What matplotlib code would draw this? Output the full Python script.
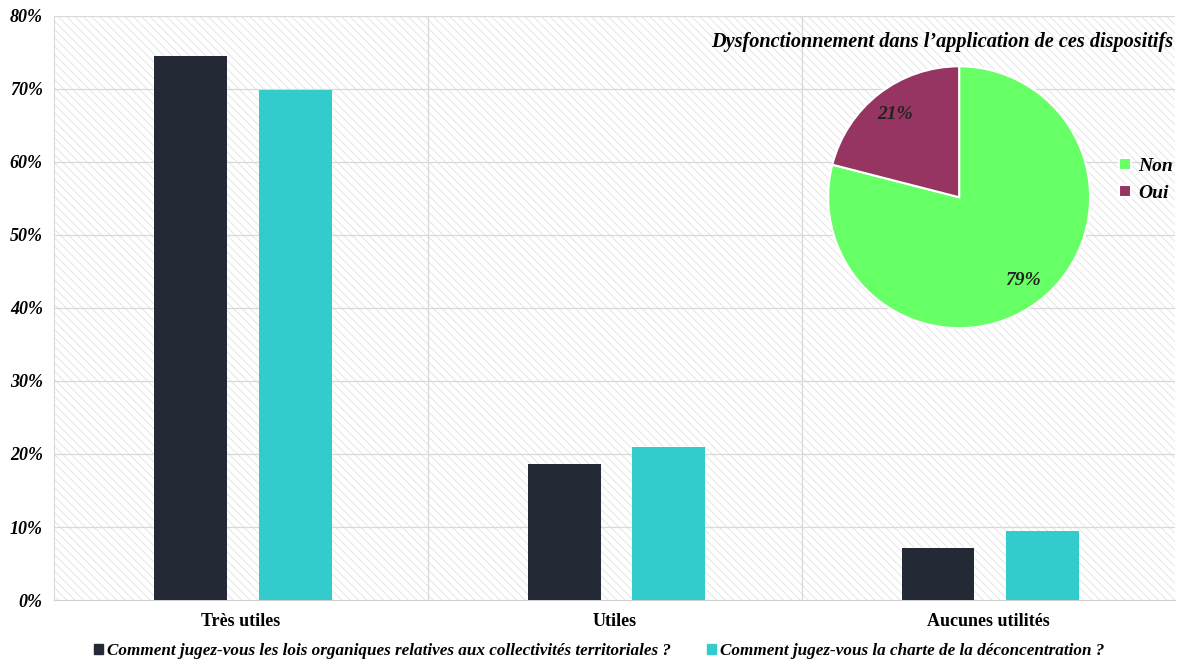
import numpy as np
import matplotlib.pyplot as plt
from matplotlib.patches import Patch, Rectangle

categories = ["Très utiles", "Utiles", "Aucunes utilités"]
lois = [74.5, 18.6, 7.1]
charte = [69.9, 21.0, 9.4]
series_names = ["Comment jugez-vous les lois organiques relatives aux collectivités territoriales ?",
                "Comment jugez-vous la charte de la déconcentration ?"]
pie_labels = ["Non", "Oui"]
pie_values = [79, 21]
pie_title = "Dysfonctionnement dans l\u2019application de ces dispositifs"

dark = "#232a35"
teal = "#33cccc"
green = "#66ff66"
plum = "#963462"

plt.rcParams['font.family'] = ['Liberation Serif', 'DejaVu Serif']
plt.rcParams['hatch.linewidth'] = 0.6

fig = plt.figure(figsize=(11.78, 6.63), dpi=100)
ax = fig.add_axes([0.0458, 0.095, 0.952, 0.881])

# hatched background
ax.add_patch(Rectangle((0, 0), 1, 1, transform=ax.transAxes, facecolor='white',
                       edgecolor='#e2e2e2', hatch='\\\\\\\\', linewidth=0, zorder=0))

x = np.arange(len(categories))
w = 0.195
ax.bar(x - 0.135, lois, w, color=dark, zorder=3)
ax.bar(x + 0.145, charte, w, color=teal, zorder=3)

ax.set_xlim(-0.5, 2.5)
ax.set_ylim(0, 80)
ax.set_yticks(np.arange(0, 81, 10))
ax.set_yticklabels([f"{v}%" for v in range(0, 81, 10)], fontsize=13,
                   fontweight='bold', style='italic')
ax.set_xticks(x)
ax.set_xticklabels(categories, fontsize=13, fontweight='bold')
ax.tick_params(length=0, pad=8)
ax.tick_params(axis='x', pad=9)

for v in np.arange(10, 81, 10):
    ax.axhline(v, color='#d8d8d8', lw=0.9, zorder=1)
for v in [0.5, 1.5]:
    ax.axvline(v, color='#d8d8d8', lw=0.9, zorder=1)

for s in ['top', 'right']:
    ax.spines[s].set_visible(False)
ax.spines['left'].set_color('#d8d8d8')
ax.spines['bottom'].set_color('#d0d0d0')

handles = [Patch(color=dark), Patch(color=teal)]
fig.legend(handles, series_names, loc='center left', bbox_to_anchor=(0.067, 0.018),
           ncol=2, frameon=False, handlelength=0.5, handleheight=0.55,
           handletextpad=0.25, columnspacing=2.1,
           prop={'size': 12.3, 'weight': 'bold', 'style': 'italic'})

# pie inset
pax = fig.add_axes([0.703, 0.505, 0.2224, 0.395])
wedges, texts, autotexts = pax.pie(pie_values, colors=[green, plum], startangle=90,
                                   counterclock=False, autopct='%d%%', pctdistance=0.8,
                                   wedgeprops={'edgecolor': 'white', 'linewidth': 1.5})
for t in autotexts:
    t.set_fontsize(14)
    t.set_fontweight('bold')
    t.set_style('italic')
    t.set_color('#222222')
pax.set_xlim(-1, 1)
pax.set_ylim(-1, 1)

fig.text(0.7995, 0.936, pie_title, ha='center', va='center', fontsize=14.6,
         fontweight='bold', style='italic')
fig.legend(wedges, pie_labels, loc='center left', bbox_to_anchor=(0.935, 0.729),
           frameon=False, handlelength=0.6, handleheight=0.6, handletextpad=0.4,
           labelspacing=0.5, prop={'size': 14, 'weight': 'bold', 'style': 'italic'})

fig.savefig("out.png", dpi=100)
